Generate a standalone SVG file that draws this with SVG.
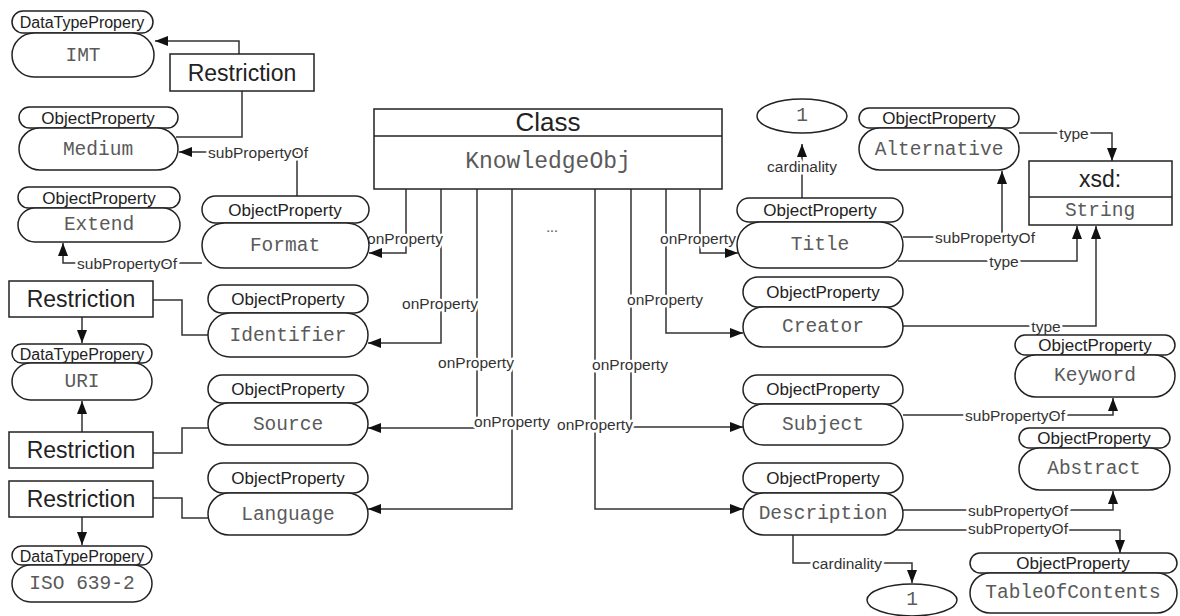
<svg xmlns="http://www.w3.org/2000/svg" width="1180" height="616" viewBox="0 0 1180 616">
<defs>
<style>
.pill{fill:#fff;stroke:#222;stroke-width:1.5}
.box{fill:#fff;stroke:#222;stroke-width:1.5}
.hd{font-family:"Liberation Sans",Arial,sans-serif;font-size:17px;fill:#222;text-anchor:middle;dominant-baseline:central}
.dt{font-size:16px}
.nm{font-family:"Liberation Mono","Courier New",monospace;font-size:19.5px;fill:#5a5a5a;text-anchor:middle;dominant-baseline:central}
.rs{font-family:"Liberation Sans",Arial,sans-serif;font-size:23px;fill:#222;text-anchor:middle;dominant-baseline:central}
.ln{fill:none;stroke:#333;stroke-width:1.5}
.lbl{font-family:"Liberation Sans",Arial,sans-serif;font-size:15.5px;fill:#333;text-anchor:middle;dominant-baseline:central;paint-order:stroke;stroke:#fff;stroke-width:5px;stroke-linejoin:round}
</style>
<marker id="ah" viewBox="0 0 13 10" refX="13" refY="5" markerWidth="13" markerHeight="10" orient="auto" markerUnits="userSpaceOnUse"><path d="M0,0 L13,5 L0,10 z" fill="#111"/></marker>
</defs>
<rect width="1180" height="616" fill="#fff"/>

<g id="connectors">
<path class="ln" d="M239,54 V41 H155" marker-end="url(#ah)"/>
<path class="ln" d="M242,91 V137 H176"/>
<path class="ln" d="M297,196 V152 H179" marker-end="url(#ah)"/>
<path class="ln" d="M202,263 H63 V243" marker-end="url(#ah)"/>
<path class="ln" d="M153,300 H182 V335 H208"/>
<path class="ln" d="M82,317 V343" marker-end="url(#ah)"/>
<path class="ln" d="M82,432 V401" marker-end="url(#ah)"/>
<path class="ln" d="M153,453 H182 V428 H208"/>
<path class="ln" d="M153,498 H182 V518 H208"/>
<path class="ln" d="M82,517 V545" marker-end="url(#ah)"/>

<path class="ln" d="M406,189 V253 H369" marker-end="url(#ah)"/>
<path class="ln" d="M441,189 V343 H368" marker-end="url(#ah)"/>
<path class="ln" d="M477,189 V428 H368" marker-end="url(#ah)"/>
<path class="ln" d="M512,189 V509 H368" marker-end="url(#ah)"/>
<path class="ln" d="M595,189 V509 H743" marker-end="url(#ah)"/>
<path class="ln" d="M631,189 V427 H743" marker-end="url(#ah)"/>
<path class="ln" d="M666,189 V333 H743" marker-end="url(#ah)"/>
<path class="ln" d="M700,189 V253 H738" marker-end="url(#ah)"/>

<path class="ln" d="M802,198 V144" marker-end="url(#ah)"/>
<path class="ln" d="M1019,133 H1112 V161" marker-end="url(#ah)"/>
<path class="ln" d="M903,237 H1002 V171" marker-end="url(#ah)"/>
<path class="ln" d="M898,261 H1077 V226" marker-end="url(#ah)"/>
<path class="ln" d="M903,326 H1096 V226" marker-end="url(#ah)"/>
<path class="ln" d="M903,415 H1113 V398" marker-end="url(#ah)"/>
<path class="ln" d="M903,510 H1113 V491" marker-end="url(#ah)"/>
<path class="ln" d="M893,530 H1120 V553" marker-end="url(#ah)"/>
<path class="ln" d="M793,535 V563 H912 V583" marker-end="url(#ah)"/>

<text class="lbl" x="258" y="152">subPropertyOf</text>
<text class="lbl" x="127" y="263">subPropertyOf</text>
<text class="lbl" x="405" y="238">onProperty</text>
<text class="lbl" x="440" y="303">onProperty</text>
<text class="lbl" x="476" y="362">onProperty</text>
<text class="lbl" x="512" y="421">onProperty</text>
<text class="lbl" x="595" y="424">onProperty</text>
<text class="lbl" x="630" y="364">onProperty</text>
<text class="lbl" x="665" y="299">onProperty</text>
<text class="lbl" x="698" y="238">onProperty</text>
<text class="lbl" x="802" y="166">cardinality</text>
<text class="lbl" x="1074" y="133">type</text>
<text class="lbl" x="985" y="237">subPropertyOf</text>
<text class="lbl" x="1004" y="261">type</text>
<text class="lbl" x="1046" y="326">type</text>
<text class="lbl" x="1015" y="415">subPropertyOf</text>
<text class="lbl" x="1018" y="510">subPropertyOf</text>
<text class="lbl" x="1018" y="528">subPropertyOf</text>
<text class="lbl" x="847" y="563">cardinality</text>
<text class="lbl" x="552" y="226" style="font-family:'Liberation Serif',serif;fill:#666">...</text>
</g>

<g id="imt">
<rect class="pill" x="12" y="11" width="141" height="22" rx="11"/>
<text class="hd dt" x="82" y="22">DataTypePropery</text>
<rect class="pill" x="12" y="33" width="142" height="44" rx="22"/>
<text class="nm" x="83" y="56">IMT</text>
</g>
<g id="restriction1">
<rect class="box" x="170" y="54" width="144" height="37"/>
<text class="rs" x="242" y="73">Restriction</text>
</g>
<g id="medium">
<rect class="pill" x="19" y="107" width="159" height="21" rx="10.5"/>
<text class="hd" x="98" y="118">ObjectProperty</text>
<rect class="pill" x="19" y="128" width="159" height="42" rx="21"/>
<text class="nm" x="98" y="150">Medium</text>
</g>
<g id="extend">
<rect class="pill" x="18" y="187" width="162" height="21" rx="10.5"/>
<text class="hd" x="99" y="198">ObjectProperty</text>
<rect class="pill" x="18" y="208" width="162" height="34" rx="17"/>
<text class="nm" x="99" y="225">Extend</text>
</g>
<g id="format">
<rect class="pill" x="202" y="196" width="167" height="27" rx="13.5"/>
<text class="hd" x="285" y="210">ObjectProperty</text>
<rect class="pill" x="202" y="223" width="167" height="45" rx="22.5"/>
<text class="nm" x="285" y="246">Format</text>
</g>
<g id="restriction2">
<rect class="box" x="9" y="281" width="144" height="36"/>
<text class="rs" x="81" y="299">Restriction</text>
</g>
<g id="identifier">
<rect class="pill" x="208" y="285" width="160" height="28" rx="14"/>
<text class="hd" x="288" y="299">ObjectProperty</text>
<rect class="pill" x="208" y="313" width="160" height="44" rx="22"/>
<text class="nm" x="288" y="336">Identifier</text>
</g>
<g id="uri">
<rect class="pill" x="12" y="344" width="140" height="19" rx="9.5"/>
<text class="hd dt" x="82" y="354">DataTypePropery</text>
<rect class="pill" x="12" y="363" width="140" height="37" rx="18.5"/>
<text class="nm" x="82" y="382">URI</text>
</g>
<g id="restriction3">
<rect class="box" x="9" y="432" width="144" height="36"/>
<text class="rs" x="81" y="450">Restriction</text>
</g>
<g id="source">
<rect class="pill" x="208" y="375" width="160" height="28" rx="14"/>
<text class="hd" x="288" y="389">ObjectProperty</text>
<rect class="pill" x="208" y="403" width="160" height="42" rx="21"/>
<text class="nm" x="288" y="425">Source</text>
</g>
<g id="restriction4">
<rect class="box" x="9" y="481" width="144" height="36"/>
<text class="rs" x="81" y="499">Restriction</text>
</g>
<g id="language">
<rect class="pill" x="208" y="463" width="160" height="30" rx="15"/>
<text class="hd" x="288" y="478">ObjectProperty</text>
<rect class="pill" x="208" y="493" width="160" height="42" rx="21"/>
<text class="nm" x="288" y="515">Language</text>
</g>
<g id="iso">
<rect class="pill" x="12" y="546" width="140" height="19" rx="9.5"/>
<text class="hd dt" x="82" y="556">DataTypePropery</text>
<rect class="pill" x="12" y="565" width="140" height="37" rx="18.5"/>
<text class="nm" x="82" y="584">ISO 639-2</text>
</g>

<g id="class">
<rect class="box" x="374" y="109" width="348" height="80"/>
<line x1="374" y1="136" x2="722" y2="136" stroke="#222" stroke-width="1.5"/>
<text class="rs" x="548" y="122" style="font-size:26px">Class</text>
<text class="nm" x="548" y="162" style="font-size:23px">KnowledgeObj</text>
</g>

<g id="card-top">
<ellipse class="pill" cx="802" cy="116" rx="45" ry="17"/>
<text class="nm" x="802" y="116">1</text>
</g>
<g id="alternative">
<rect class="pill" x="859" y="108" width="160" height="20" rx="10"/>
<text class="hd" x="939" y="118">ObjectProperty</text>
<rect class="pill" x="859" y="128" width="160" height="42" rx="21"/>
<text class="nm" x="939" y="150">Alternative</text>
</g>
<g id="xsd">
<rect class="box" x="1029" y="161" width="143" height="64"/>
<line x1="1029" y1="197" x2="1172" y2="197" stroke="#222" stroke-width="1.5"/>
<text class="rs" x="1100" y="179">xsd:</text>
<text class="nm" x="1100" y="211">String</text>
</g>
<g id="title">
<rect class="pill" x="737" y="198" width="166" height="24" rx="12"/>
<text class="hd" x="820" y="210">ObjectProperty</text>
<rect class="pill" x="737" y="222" width="166" height="46" rx="23"/>
<text class="nm" x="820" y="245">Title</text>
</g>
<g id="creator">
<rect class="pill" x="743" y="277" width="160" height="30" rx="15"/>
<text class="hd" x="823" y="292">ObjectProperty</text>
<rect class="pill" x="743" y="307" width="160" height="40" rx="20"/>
<text class="nm" x="823" y="327">Creator</text>
</g>
<g id="keyword">
<rect class="pill" x="1015" y="335" width="160" height="20" rx="10"/>
<text class="hd" x="1095" y="345">ObjectProperty</text>
<rect class="pill" x="1015" y="355" width="160" height="42" rx="21"/>
<text class="nm" x="1095" y="376">Keyword</text>
</g>
<g id="subject">
<rect class="pill" x="743" y="375" width="160" height="29" rx="14.5"/>
<text class="hd" x="823" y="389">ObjectProperty</text>
<rect class="pill" x="743" y="404" width="160" height="41" rx="20.5"/>
<text class="nm" x="823" y="425">Subject</text>
</g>
<g id="abstract">
<rect class="pill" x="1019" y="428" width="151" height="20" rx="10"/>
<text class="hd" x="1094" y="438">ObjectProperty</text>
<rect class="pill" x="1019" y="448" width="151" height="42" rx="21"/>
<text class="nm" x="1094" y="469">Abstract</text>
</g>
<g id="description">
<rect class="pill" x="743" y="463" width="160" height="30" rx="15"/>
<text class="hd" x="823" y="478">ObjectProperty</text>
<rect class="pill" x="743" y="493" width="160" height="42" rx="21"/>
<text class="nm" x="823" y="514">Description</text>
</g>
<g id="tableofcontents">
<rect class="pill" x="970" y="553" width="207" height="20" rx="10"/>
<text class="hd" x="1073" y="563">ObjectProperty</text>
<rect class="pill" x="970" y="573" width="207" height="40" rx="20"/>
<text class="nm" x="1073" y="593">TableOfContents</text>
</g>
<g id="card-bottom">
<ellipse class="pill" cx="912" cy="600" rx="45" ry="16"/>
<text class="nm" x="912" y="600">1</text>
</g>
</svg>
